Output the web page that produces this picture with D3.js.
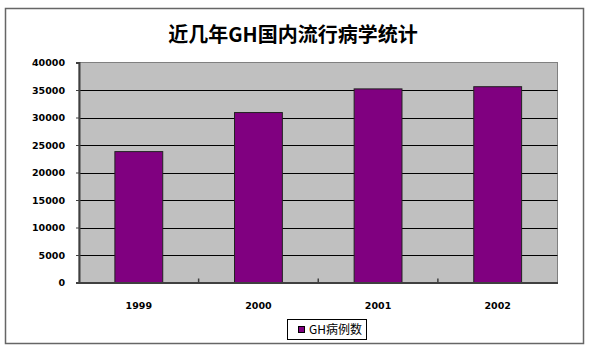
<!DOCTYPE html>
<html>
<head>
<meta charset="utf-8">
<script src="https://cdn.jsdelivr.net/npm/d3@7"></script>
<style>
  body { margin: 0; background: #fff; }
</style>
</head>
<body>
<div id="chart"></div>
<script>
const years = ["1999", "2000", "2001", "2002"];
const cases = [23800, 30900, 35200, 35600];
const yTicks = [0, 5000, 10000, 15000, 20000, 25000, 30000, 35000, 40000];
const chartTitle = "近几年GH国内流行病学统计";
const seriesName = "GH病例数";

const width = 594, height = 351;
const plot = { left: 79, top: 62.5, right: 557.5, bottom: 282.5 };

const svg = d3.select("#chart")
  .append("svg")
  .attr("width", width)
  .attr("height", height);

// outer chart frame
svg.append("rect")
  .attr("x", 5.5).attr("y", 8.5)
  .attr("width", 578).attr("height", 335)
  .attr("fill", "#fff")
  .attr("stroke", "#666")
  .attr("stroke-width", 1.5);

svg.append("text")
  .attr("x", 293)
  .attr("y", 42)
  .attr("text-anchor", "middle")
  .style("font-family", "'Noto Sans CJK SC', sans-serif")
  .style("font-weight", "bold")
  .style("font-size", "20px")
  .text(chartTitle);

const x = d3.scaleBand()
  .domain(years)
  .range([plot.left, plot.right])
  .paddingInner(0.6)
  .paddingOuter(0.3);

const xBound = d3.scaleBand()
  .domain(years)
  .range([plot.left, plot.right]);

const y = d3.scaleLinear()
  .domain([0, 40000])
  .range([plot.bottom, plot.top]);

// plot background
svg.append("rect")
  .attr("x", plot.left).attr("y", plot.top)
  .attr("width", plot.right - plot.left)
  .attr("height", plot.bottom - plot.top)
  .attr("fill", "#c0c0c0")
  .attr("stroke", "#808080")
  .attr("stroke-width", 1);

// gridlines
svg.append("g")
  .selectAll("line")
  .data(yTicks.filter(d => d > 0 && d < 40000))
  .join("line")
  .attr("x1", plot.left).attr("x2", plot.right)
  .attr("y1", d => Math.round(y(d)) + 0.5)
  .attr("y2", d => Math.round(y(d)) + 0.5)
  .attr("stroke", "#000")
  .attr("stroke-width", 1);

// bars
svg.append("g")
  .selectAll("rect")
  .data(years)
  .join("rect")
  .attr("x", d => x(d))
  .attr("y", (d, i) => y(cases[i]))
  .attr("width", x.bandwidth())
  .attr("height", (d, i) => y(0) - y(cases[i]))
  .attr("fill", "#800080")
  .attr("stroke", "#222")
  .attr("stroke-width", 1);

// y axis
const yAxis = svg.append("g")
  .attr("transform", `translate(${plot.left},0)`)
  .call(d3.axisLeft(y).tickValues(yTicks).tickSize(3).tickPadding(11).tickFormat(d3.format("d")));
yAxis.select(".domain").attr("stroke", "#404040").attr("stroke-width", 2);
yAxis.selectAll(".tick line").attr("stroke", "#404040");
yAxis.selectAll("text")
  .style("font-family", "'DejaVu Sans', sans-serif")
  .style("font-weight", "bold")
  .style("font-size", "9.5px")
  .attr("fill", "#000");

// x axis
const xAxis = svg.append("g")
  .attr("transform", `translate(0,${plot.bottom})`)
  .call(d3.axisBottom(xBound).tickSize(0).tickPadding(20));
xAxis.select(".domain").attr("stroke", "#404040").attr("stroke-width", 2);
xAxis.selectAll("text")
  .style("font-family", "'DejaVu Sans', sans-serif")
  .style("font-weight", "bold")
  .style("font-size", "9.5px")
  .attr("fill", "#000");

// category separator ticks (inside)
svg.append("g")
  .selectAll("line")
  .data(years.slice(1))
  .join("line")
  .attr("x1", d => xBound(d)).attr("x2", d => xBound(d))
  .attr("y1", plot.bottom).attr("y2", plot.bottom - 4)
  .attr("stroke", "#404040")
  .attr("stroke-width", 1.5);

// legend
const legend = svg.append("g").attr("transform", "translate(287,319)");
legend.append("rect")
  .attr("x", 0.5).attr("y", 0.5)
  .attr("width", 79).attr("height", 20)
  .attr("fill", "#fff")
  .attr("stroke", "#000");
legend.append("rect")
  .attr("x", 11.5).attr("y", 7.5)
  .attr("width", 6).attr("height", 6)
  .attr("fill", "#800080")
  .attr("stroke", "#000");
legend.append("text")
  .attr("x", 22)
  .attr("y", 15)
  .style("font-family", "'Noto Sans CJK SC', sans-serif")
  .style("font-size", "12px")
  .text(seriesName);
</script>
</body>
</html>
